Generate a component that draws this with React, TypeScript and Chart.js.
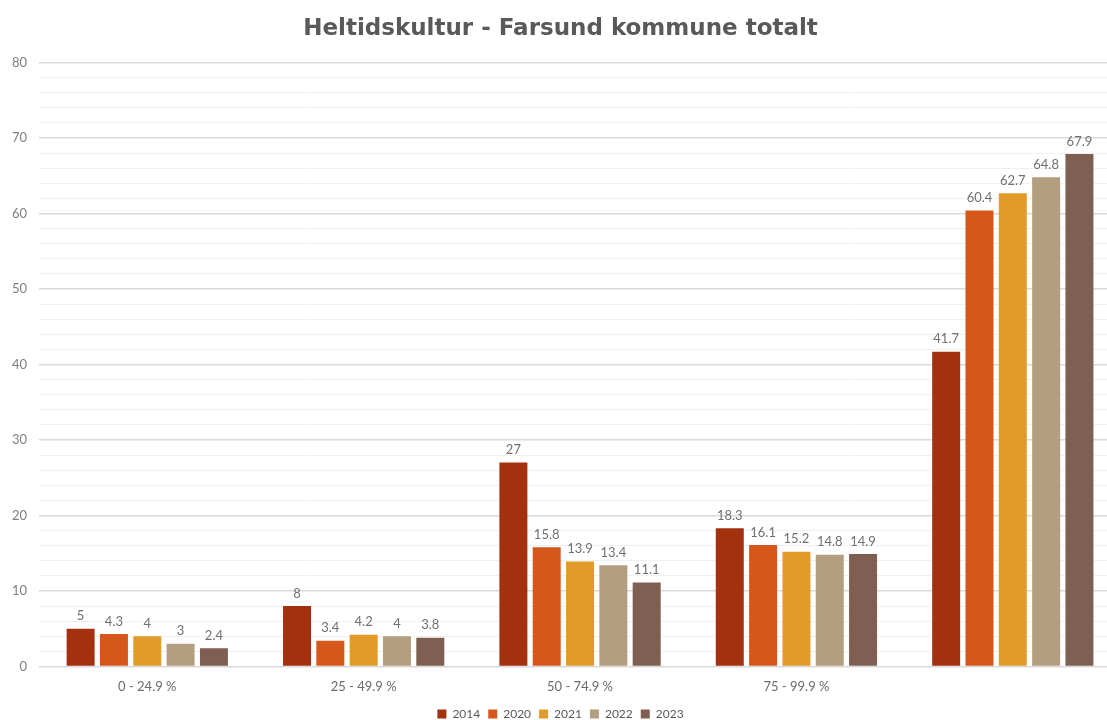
import React, { useEffect, useRef } from "react";
import { Chart, registerables } from "chart.js";

Chart.register(...registerables);

const categories = ["0 - 24.9 %", "25 - 49.9 %", "50 - 74.9 %", "75 - 99.9 %", ""];
const years = ["2014", "2020", "2021", "2022", "2023"];
const v2014 = [5, 8, 27, 18.3, 41.7];
const v2020 = [4.3, 3.4, 15.8, 16.1, 60.4];
const v2021 = [4, 4.2, 13.9, 15.2, 62.7];
const v2022 = [3, 4, 13.4, 14.8, 64.8];
const v2023 = [2.4, 3.8, 11.1, 14.9, 67.9];
const colors = ["#A3300F", "#D5581A", "#E29B29", "#B39E80", "#7E5F52"];

const valueLabels = {
  id: "valueLabels",
  afterDatasetsDraw(chart: any) {
    const ctx = chart.ctx;
    ctx.save();
    ctx.font = "13px Lato, 'DejaVu Sans', sans-serif";
    ctx.fillStyle = "#707070";
    ctx.textAlign = "center";
    ctx.textBaseline = "bottom";
    chart.data.datasets.forEach((ds: any, i: number) => {
      const meta = chart.getDatasetMeta(i);
      meta.data.forEach((bar: any, j: number) => {
        ctx.fillText(String(ds.data[j]), bar.x, bar.y - 6);
      });
    });
    ctx.restore();
  },
};

export default function App() {
  const ref = useRef<HTMLCanvasElement>(null);
  useEffect(() => {
    document.body.style.margin = "0";
    const series = [v2014, v2020, v2021, v2022, v2023];
    const chart = new Chart(ref.current!, {
      type: "bar",
      data: {
        labels: categories,
        datasets: years.map((y, i) => ({
          label: y,
          data: series[i],
          backgroundColor: colors[i],
          categoryPercentage: 0.77,
          barPercentage: 0.84,
        })),
      },
      options: {
        animation: false,
        responsive: false,
        layout: { padding: { left: 0, right: 19, top: 0, bottom: -10 } },
        plugins: {
          title: {
            display: true,
            text: "Heltidskultur - Farsund kommune totalt",
            color: "#595959",
            font: { size: 23, weight: "bold", family: "'DejaVu Sans', sans-serif" },
            padding: { top: 15, bottom: 20 },
          },
          legend: {
            position: "bottom",
            labels: {
              boxWidth: 9,
              boxHeight: 9,
              padding: 8,
              color: "#595959",
              font: { size: 12, family: "Lato, 'DejaVu Sans', sans-serif" },
            },
          },
          tooltip: { enabled: false },
        },
        scales: {
          x: {
            grid: { display: false },
            border: { color: "#d9d9d9" },
            ticks: {
              color: "#6b6b6b",
              padding: 5,
              font: { size: 13, family: "Lato, 'DejaVu Sans', sans-serif" },
            },
          },
          y: {
            min: 0,
            max: 80,
            border: { display: false },
            grid: {
              drawTicks: false,
              color: (c: any) => (c.tick && c.tick.value % 10 === 0 ? "#d9d9d9" : "#f0f0f0"),
              lineWidth: (c: any) => (c.tick && c.tick.value % 10 === 0 ? 1.5 : 1),
            },
            ticks: {
              stepSize: 2,
              autoSkip: false,
              padding: 12,
              color: "#7f7f7f",
              font: { size: 13, family: "Lato, 'DejaVu Sans', sans-serif" },
              callback: (v: any) => (Number(v) % 10 === 0 ? String(v) : ""),
            },
          },
        },
      },
      plugins: [valueLabels],
    });
    return () => chart.destroy();
  }, []);
  return (
    <div style={{ position: "absolute", left: 0, top: 0, width: 1107, height: 720, overflow: "hidden", background: "#fff" }}>
      <canvas ref={ref} width={1140} height={720} style={{ display: "block", width: 1140, height: 720 }} />
    </div>
  );
}
